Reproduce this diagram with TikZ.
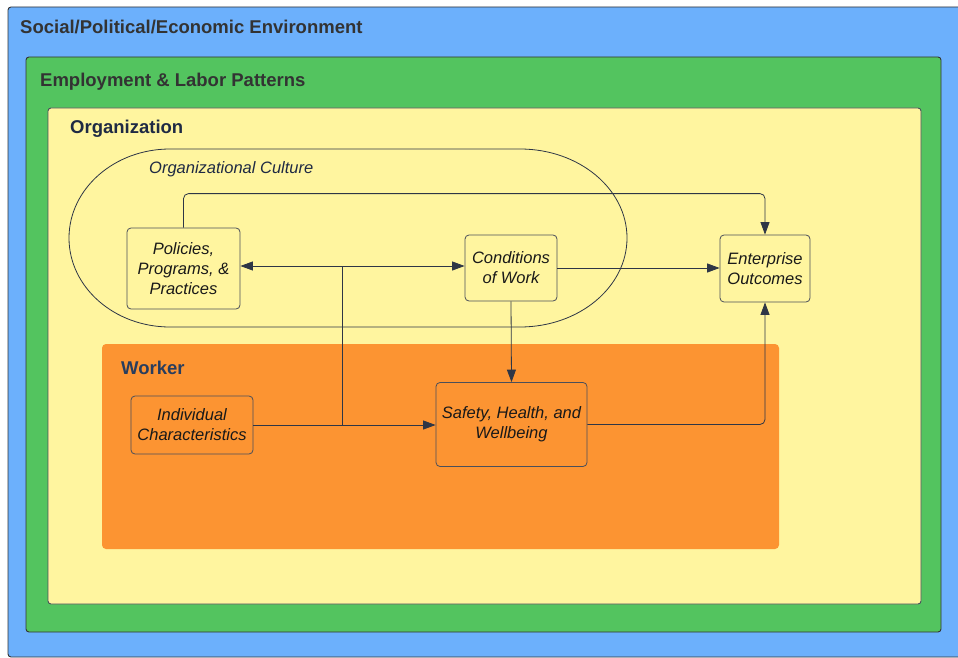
\documentclass[tikz,border=0pt]{standalone}
\usepackage{fontspec}
\setmainfont{Liberation Sans}
\usetikzlibrary{arrows.meta}
\definecolor{envblue}{HTML}{6CB0FC}
\definecolor{labgreen}{HTML}{53C45F}
\definecolor{orgyellow}{HTML}{FFF59F}
\definecolor{workorange}{HTML}{FC9432}
\definecolor{linecol}{HTML}{2E3646}
\definecolor{titlegray}{HTML}{333333}
\definecolor{titlenavy}{HTML}{1F2A44}
\definecolor{workernavy}{HTML}{283D5E}
\definecolor{boxline}{HTML}{4A4F5A}
\tikzset{
  frame/.style={draw=#1, line width=0.9pt, rounded corners=3pt},
  title/.style={anchor=base west, inner sep=0pt, font=\fontsize{18.5}{22}\selectfont\bfseries},
  itembox/.style={draw=boxline, line width=0.8pt, rounded corners=4pt, align=center,
     inner sep=0pt, font=\fontsize{16.5}{20}\selectfont\itshape, text=black!90},
  arr/.style={draw=linecol, line width=0.8pt, -{Triangle[length=12.5pt,width=9pt]}},
  conn/.style={draw=linecol, line width=0.8pt},
}
\begin{document}
\begin{tikzpicture}[x=1pt,y=-1pt]
\useasboundingbox (0,0) rectangle (958,658);
\clip (0,0) rectangle (958,658);
% environment boxes
\draw[frame=titlegray, fill=envblue] (8,7) rectangle (975,657);
\draw[frame=titlegray, fill=labgreen] (26,57) rectangle (941,632);
\draw[frame=boxline, fill=orgyellow] (48,108) rectangle (921,604);
\fill[workorange, rounded corners=4pt] (102,344) rectangle (779,549);
% titles
\node[title, text=titlegray] (tenv) at (20,33.4) {Social/Political/Economic Environment};
\node[title, text=titlegray] (tlab) at (40,86.6) {Employment \& Labor Patterns};
\node[title, text=titlenavy] (torg) at (70,133.6) {Organization};
\node[title, text=workernavy] (twork) at (121,374) {Worker};
% organizational culture
\draw[draw=linecol, line width=0.8pt] (170,149) -- (520,149)
   arc[start angle=-90, end angle=90, x radius=107, y radius=89]
   -- (170,327)
   arc[start angle=90, end angle=270, x radius=101, y radius=89] -- cycle;
\node[anchor=base west, inner sep=0pt, font=\fontsize{16.5}{20}\selectfont\itshape, text=titlenavy] (tcult) at (149,173) {Organizational Culture};
% nodes
\node[itembox, minimum width=113pt, minimum height=81pt] (pol) at (183.5,268.5) {Policies,\\Programs, \&\\Practices};
\node[itembox, minimum width=92pt, minimum height=66pt] (cow) at (511,268) {Conditions\\of Work};
\node[itembox, minimum width=90pt, minimum height=67pt] (ent) at (765,268.5) {Enterprise\\Outcomes};
\node[itembox, minimum width=122pt, minimum height=58pt] (ind) at (192,425) {Individual\\Characteristics};
\node[itembox, minimum width=151pt, minimum height=84pt] (saf) at (511.5,424.5) {Safety, Health, and\\Wellbeing};
% connectors
\coordinate (jlow) at (342,425);
\coordinate (jup) at (342,266);
\draw[arr, rounded corners=5pt] (pol.north) -- ++(0,-34) -| (ent.north);
\draw[arr] (ind.east) -- (ind.east -| saf.west);
\draw[conn] (jlow) -- (jup);
\draw[arr] (jup) -- (pol.east |- jup);
\draw[arr] (jup) -- (cow.west |- jup);
\draw[arr] (cow.east) -- (cow.east -| ent.west);
\draw[arr] (cow.south) -- (saf.north);
\draw[arr, rounded corners=5pt] (saf.east) -| (ent.south);
\end{tikzpicture}
\end{document}
